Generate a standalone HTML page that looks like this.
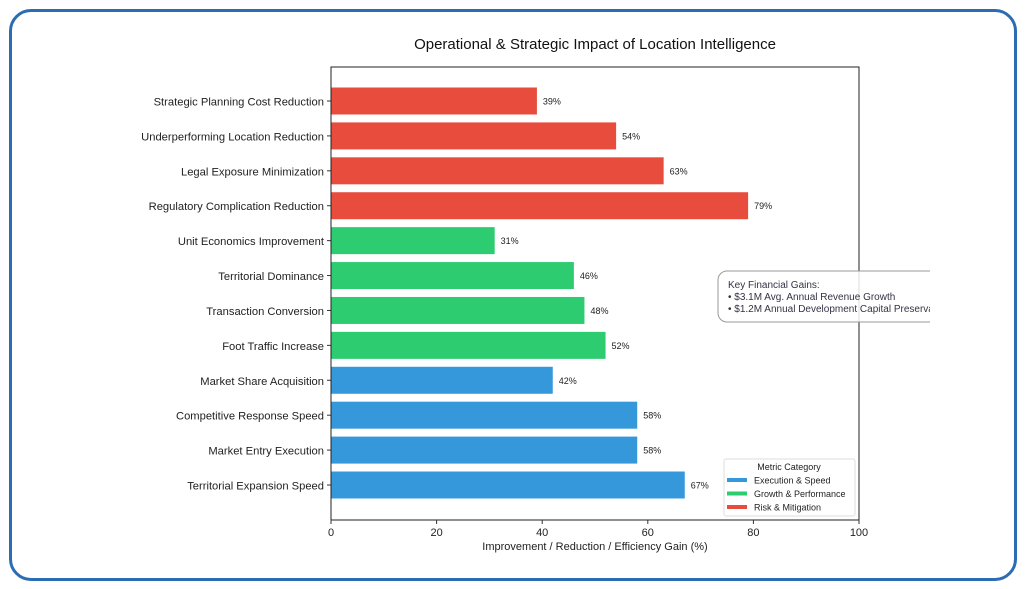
<!DOCTYPE html>
<html><head><meta charset="utf-8"><style>
body{margin:0;width:1026px;height:589px;background:#fff;overflow:hidden;font-family:"Liberation Sans",sans-serif}
#frame{position:absolute;left:9px;top:9px;width:1002px;height:566px;border:3.5px solid #2b6cb3;border-radius:22px}
</style></head><body>
<div id="frame"></div>
<svg id="chart" width="1026" height="589" style="position:absolute;left:0;top:0"></svg>
<script>
const categories=["Strategic Planning Cost Reduction","Underperforming Location Reduction","Legal Exposure Minimization","Regulatory Complication Reduction","Unit Economics Improvement","Territorial Dominance","Transaction Conversion","Foot Traffic Increase","Market Share Acquisition","Competitive Response Speed","Market Entry Execution","Territorial Expansion Speed"];
const values=[39,54,63,79,31,46,48,52,42,58,58,67];
const groups=["risk","risk","risk","risk","growth","growth","growth","growth","exec","exec","exec","exec"];
const xTicks=[0,20,40,60,80,100];
const colors={exec:"#3498db",growth:"#2ecc71",risk:"#e74c3c"};
const NS="http://www.w3.org/2000/svg";
const svg=document.getElementById('chart');
const L=331,R=859,T=67,B=520;
const x=v=>L+(v/100)*(R-L);
const yc=i=>101+i*((485-101)/(categories.length-1));
function mk(t,a,p){const e=document.createElementNS(NS,t);for(const k in a)e.setAttribute(k,a[k]);(p||svg).appendChild(e);return e;}
let t=mk('text',{x:595,y:49,'text-anchor':'middle','font-size':15,fill:'#111'});t.textContent="Operational & Strategic Impact of Location Intelligence";


values.forEach((v,i)=>{
 const r=mk('rect',{x:x(0),y:yc(i)-13.5,width:x(v)-x(0),height:27,fill:colors[groups[i]]});
 
 
 const lb=mk('text',{x:x(v)+6,y:yc(i)+3.5,'font-size':9,fill:'#222'});lb.textContent=v+'%';
 
 
 const cl=mk('text',{x:L-7,y:yc(i)+4.5,'text-anchor':'end','font-size':11.2,fill:'#222'});cl.textContent=categories[i];
 
 
 mk('line',{x1:L-4,x2:L,y1:yc(i),y2:yc(i),stroke:'#333'});
});
const ax=mk('rect',{x:L,y:T,width:R-L,height:B-T,fill:'none',stroke:'#222','stroke-width':1});


xTicks.forEach(v=>{
 mk('line',{x1:x(v),x2:x(v),y1:B,y2:B+4,stroke:'#333'});
 const tl=mk('text',{x:x(v),y:B+16,'text-anchor':'middle','font-size':11,fill:'#222'});tl.textContent=v;
 
 
});
const xt=mk('text',{x:595,y:550,'text-anchor':'middle','font-size':11,fill:'#222'});xt.textContent="Improvement / Reduction / Efficiency Gain (%)";


const ag=mk('g',{});


mk('defs',{}).innerHTML='<clipPath id="cp"><rect x="0" y="0" width="930" height="589"/></clipPath>';
mk('rect',{x:718,y:271,width:260,height:51,rx:9,fill:'rgba(255,255,255,0.85)',stroke:'#999','clip-path':'url(#cp)'},ag);
[["Key Financial Gains:",288],["• $3.1M Avg. Annual Revenue Growth",300],["• $1.2M Annual Development Capital Preservation",312]].forEach(([s,y])=>{const e=mk('text',{x:728,y:y,'font-size':10,fill:'#334','clip-path':'url(#cp)'},ag);e.textContent=s;});
const lg=mk('g',{});


mk('rect',{x:724,y:459,width:131,height:57,rx:2,fill:'#fff',stroke:'#ddd'},lg);
const lt=mk('text',{x:789,y:470,'text-anchor':'middle','font-size':9,fill:'#222'},lg);lt.textContent="Metric Category";
[["exec","Execution & Speed"],["growth","Growth & Performance"],["risk","Risk & Mitigation"]].forEach(([k,s],j)=>{
 const y=480+j*13.5;
 mk('line',{x1:727,x2:747,y1:y,y2:y,stroke:colors[k],'stroke-width':4},lg);
 const e=mk('text',{x:754,y:y+3.5,'font-size':9,fill:'#222'},lg);e.textContent=s;
 
 
});
</script>
</body></html>
